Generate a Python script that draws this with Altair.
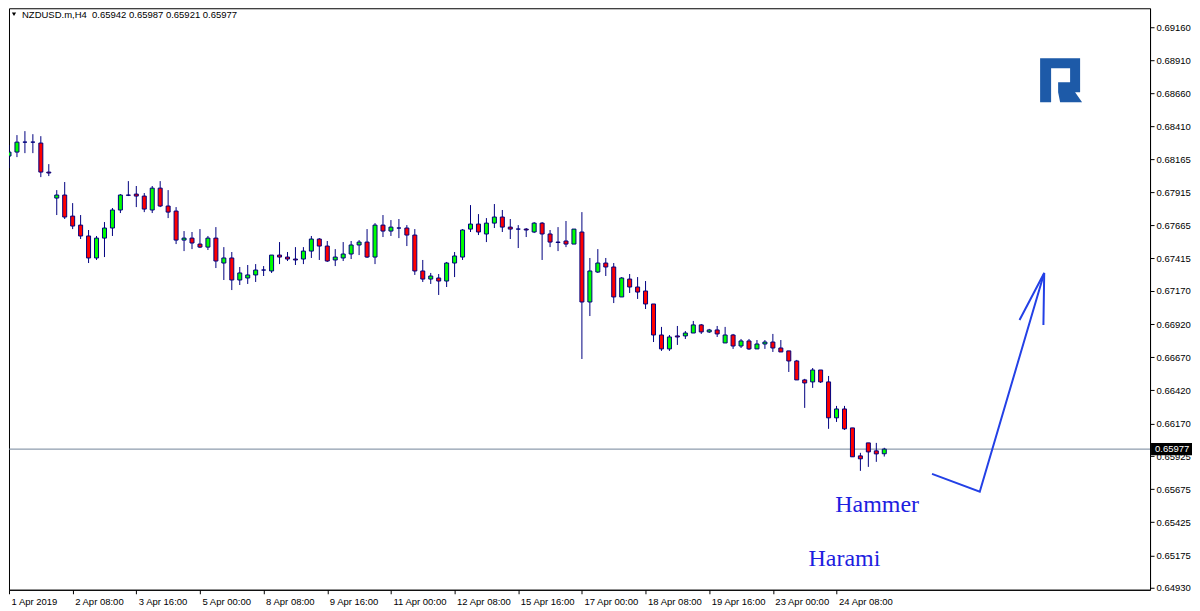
import altair as alt
import pandas as pd

# ---- data (NZDUSD H4, 1-25 Apr 2019) ----
opens = [
    0.68188, 0.68218, 0.68293, 0.68293, 0.68286, 0.68067, 0.67871, 0.67894, 0.67735, 0.67667,
    0.67585, 0.67419, 0.67569, 0.67645, 0.67781, 0.67894, 0.67901, 0.67886, 0.67781, 0.67946,
    0.67811, 0.67773, 0.67554, 0.67569, 0.67524, 0.67501, 0.67569, 0.67381, 0.67419, 0.67253,
    0.67268, 0.67291, 0.67328, 0.67321, 0.67441, 0.67426, 0.67411, 0.67411, 0.67471, 0.67562,
    0.67509, 0.67404, 0.67419, 0.67449, 0.67517, 0.67539, 0.67426, 0.67667, 0.67622, 0.67645,
    0.67645, 0.67592, 0.67321, 0.67260, 0.67268, 0.67245, 0.67381, 0.67426, 0.67637, 0.67675,
    0.67600, 0.67682, 0.67728, 0.67652, 0.67637, 0.67637, 0.67615, 0.67682, 0.67600, 0.67539,
    0.67547, 0.67524, 0.67615, 0.67087, 0.67313, 0.67381, 0.67351, 0.67125, 0.67260, 0.67200,
    0.67170, 0.67072, 0.66838, 0.66733, 0.66831, 0.66831, 0.66853, 0.66914, 0.66861, 0.66876,
    0.66778, 0.66838, 0.66755, 0.66793, 0.66733, 0.66770, 0.66785, 0.66740, 0.66718, 0.66642,
    0.66499, 0.66484, 0.66574, 0.66484, 0.66213, 0.66280, 0.66137, 0.65926, 0.66024, 0.65964,
    0.65942,
]
highs = [
    0.68271, 0.68346, 0.68376, 0.68353, 0.68338, 0.68127, 0.67931, 0.67992, 0.67833, 0.67743,
    0.67630, 0.67585, 0.67690, 0.67796, 0.67901, 0.67999, 0.67962, 0.67909, 0.67962, 0.67999,
    0.67931, 0.67803, 0.67622, 0.67615, 0.67637, 0.67585, 0.67652, 0.67501, 0.67464, 0.67351,
    0.67366, 0.67373, 0.67358, 0.67441, 0.67539, 0.67464, 0.67501, 0.67501, 0.67585, 0.67569,
    0.67547, 0.67486, 0.67539, 0.67547, 0.67554, 0.67637, 0.67682, 0.67743, 0.67705, 0.67713,
    0.67667, 0.67637, 0.67404, 0.67306, 0.67298, 0.67389, 0.67464, 0.67637, 0.67818, 0.67750,
    0.67720, 0.67826, 0.67781, 0.67713, 0.67667, 0.67645, 0.67690, 0.67690, 0.67630, 0.67652,
    0.67698, 0.67637, 0.67765, 0.67419, 0.67486, 0.67419, 0.67381, 0.67275, 0.67298, 0.67275,
    0.67245, 0.67072, 0.66899, 0.66838, 0.66906, 0.66868, 0.66944, 0.66921, 0.66884, 0.66906,
    0.66899, 0.66846, 0.66808, 0.66808, 0.66800, 0.66800, 0.66846, 0.66800, 0.66718, 0.66650,
    0.66507, 0.66589, 0.66574, 0.66529, 0.66303, 0.66303, 0.66137, 0.65949, 0.66024, 0.66024,
    0.65987,
]
lows = [
    0.68097, 0.68180, 0.68210, 0.68210, 0.68029, 0.68037, 0.67743, 0.67713, 0.67637, 0.67562,
    0.67381, 0.67404, 0.67426, 0.67585, 0.67758, 0.67886, 0.67803, 0.67765, 0.67758, 0.67803,
    0.67720, 0.67524, 0.67471, 0.67486, 0.67494, 0.67479, 0.67343, 0.67253, 0.67177, 0.67215,
    0.67223, 0.67238, 0.67283, 0.67306, 0.67373, 0.67396, 0.67366, 0.67373, 0.67419, 0.67404,
    0.67389, 0.67358, 0.67396, 0.67411, 0.67441, 0.67419, 0.67373, 0.67577, 0.67585, 0.67569,
    0.67509, 0.67291, 0.67238, 0.67223, 0.67140, 0.67200, 0.67275, 0.67404, 0.67615, 0.67592,
    0.67539, 0.67645, 0.67615, 0.67562, 0.67494, 0.67577, 0.67607, 0.67404, 0.67501, 0.67471,
    0.67501, 0.67524, 0.66657, 0.66981, 0.67306, 0.67283, 0.67079, 0.67125, 0.67155, 0.67110,
    0.67034, 0.66785, 0.66718, 0.66718, 0.66763, 0.66808, 0.66853, 0.66846, 0.66853, 0.66823,
    0.66778, 0.66733, 0.66740, 0.66725, 0.66733, 0.66733, 0.66710, 0.66710, 0.66559, 0.66499,
    0.66288, 0.66439, 0.66476, 0.66130, 0.66182, 0.66122, 0.65919, 0.65813, 0.65843, 0.65881,
    0.65921,
]
closes = [
    0.68218, 0.68293, 0.68293, 0.68293, 0.68067, 0.68060, 0.67894, 0.67728, 0.67660, 0.67585,
    0.67419, 0.67569, 0.67645, 0.67781, 0.67894, 0.67892, 0.67886, 0.67788, 0.67946, 0.67811,
    0.67765, 0.67554, 0.67569, 0.67532, 0.67501, 0.67569, 0.67396, 0.67419, 0.67253, 0.67306,
    0.67291, 0.67328, 0.67328, 0.67441, 0.67426, 0.67411, 0.67404, 0.67471, 0.67562, 0.67509,
    0.67396, 0.67426, 0.67449, 0.67517, 0.67539, 0.67426, 0.67667, 0.67622, 0.67652, 0.67645,
    0.67592, 0.67321, 0.67260, 0.67283, 0.67245, 0.67381, 0.67434, 0.67630, 0.67675, 0.67615,
    0.67682, 0.67728, 0.67652, 0.67637, 0.67637, 0.67630, 0.67682, 0.67600, 0.67539, 0.67536,
    0.67524, 0.67637, 0.67087, 0.67321, 0.67381, 0.67351, 0.67125, 0.67268, 0.67200, 0.67162,
    0.67072, 0.66838, 0.66733, 0.66823, 0.66823, 0.66853, 0.66914, 0.66861, 0.66876, 0.66846,
    0.66838, 0.66755, 0.66793, 0.66733, 0.66770, 0.66785, 0.66740, 0.66710, 0.66642, 0.66499,
    0.66476, 0.66574, 0.66484, 0.66213, 0.66280, 0.66130, 0.65919, 0.65904, 0.65956, 0.65941,
    0.65977,
]

time_labels = ["1 Apr 2019", "2 Apr 08:00", "3 Apr 16:00", "5 Apr 00:00", "8 Apr 08:00",
               "9 Apr 16:00", "11 Apr 00:00", "12 Apr 08:00", "15 Apr 16:00", "17 Apr 00:00",
               "18 Apr 08:00", "19 Apr 16:00", "23 Apr 00:00", "24 Apr 08:00"]
bars_per_label = 8
price_ticks = [0.69160, 0.68910, 0.68660, 0.68410, 0.68165, 0.67915, 0.67665, 0.67415, 0.67170,
               0.66920, 0.66670, 0.66420, 0.66170, 0.65925, 0.65675, 0.65425, 0.65175, 0.64930]
last_price = 0.65977
header = "NZDUSD.m,H4\u00a0\u00a00.65942 0.65987 0.65921 0.65977"

arrow_seg = [0, 0, 0, 1, 1, 1]
arrow_bar = [116.0, 122.0, 130.1, 127.0, 130.1, 130.0]
arrow_price = [0.65790, 0.65655, 0.67306, 0.66951, 0.67306, 0.66914]

notes = ["Hammer", "Harami"]
note_bar = [109.1, 105.0]
note_price = [0.65557, 0.65150]

# ---- styling ----
FONT = "Liberation Sans"
FS = 9.5
W, H = 1142, 582
XDOM = [0.0, 143.4]
YDOM = [0.64916, 0.69303]
NAVY = "#000080"
BLUE_TXT = "#1e1ee0"
BLUE_ARROW = "#2340e6"

candles = pd.DataFrame({
    "i": list(range(len(opens))),
    "open": opens, "high": highs, "low": lows, "close": closes,
})

xscale = alt.Scale(domain=XDOM, nice=False, zero=False, padding=0)
yscale = alt.Scale(domain=YDOM, nice=False, zero=False, padding=0)

label_arr = "[" + ",".join("'" + s + "'" for s in time_labels) + "]"
xaxis = alt.Axis(
    values=[k * bars_per_label for k in range(len(time_labels))],
    labelExpr=label_arr + "[round(datum.value / %d)]" % bars_per_label,
    title=None, grid=False, tickSize=4, tickColor="black", domainColor="black",
    labelAlign="left", labelOffset=2, labelPadding=3, labelFlush=False,
    labelOverlap=False, labelFont=FONT, labelFontSize=FS, labelColor="black",
    labelBaseline="top",
)
yaxis = alt.Axis(
    orient="right", values=price_ticks, format=".5f", title=None, grid=False,
    tickSize=4, tickColor="black", domainColor="black", labelAlign="left",
    labelPadding=2, labelFlush=False, labelOverlap=False, labelFont=FONT,
    labelFontSize=FS, labelColor="black", labelBaseline="middle",
)


def X(f):
    return alt.X(f, type="quantitative", scale=xscale, axis=xaxis)


def Y(f):
    return alt.Y(f, type="quantitative", scale=yscale, axis=yaxis)


wicks = alt.Chart(candles).mark_rule(color=NAVY, strokeWidth=1, clip=True).encode(
    x=X("i"), y=Y("low"), y2="high"
)
bodies = alt.Chart(candles).mark_bar(size=4, stroke=NAVY, strokeWidth=1, clip=True).encode(
    x=X("i"), y=Y("open"), y2="close",
    color=alt.condition("datum.close >= datum.open", alt.value("#00ff00"), alt.value("#ff0000")),
)

price_df = pd.DataFrame({"p": [last_price], "t": ["%.5f" % last_price]})
price_line = alt.Chart(price_df).mark_rule(color="#71849a", strokeWidth=1).encode(y=Y("p"))
price_box = alt.Chart(price_df).mark_rect(color="black").encode(
    x=alt.value(W + 1), x2=alt.value(W + 42), y=alt.value(435.2), y2=alt.value(447.4)
)
price_text = alt.Chart(price_df).mark_text(
    align="left", baseline="middle", font=FONT, fontSize=FS, color="white"
).encode(x=alt.value(W + 5), y=Y("p"), text="t:N")

arrow_df = pd.DataFrame({"seg": arrow_seg, "i": arrow_bar, "p": arrow_price,
                         "ord": list(range(len(arrow_seg)))})
arrow = alt.Chart(arrow_df).mark_line(color=BLUE_ARROW, strokeWidth=2).encode(
    x=X("i"), y=Y("p"), detail="seg:N", order="ord:Q"
)

notes_df = pd.DataFrame({"t": notes, "i": note_bar, "p": note_price})
note_text = alt.Chart(notes_df).mark_text(
    align="center", baseline="middle", font="Liberation Serif", fontSize=24, color=BLUE_TXT
).encode(x=X("i"), y=Y("p"), text="t:N")

head_df = pd.DataFrame({"t": [header]})
head_tri = alt.Chart(head_df).mark_point(
    shape="triangle-down", filled=True, size=18, color="black", opacity=1
).encode(x=alt.value(5), y=alt.value(6))
head_text = alt.Chart(head_df).mark_text(
    align="left", baseline="middle", font=FONT, fontSize=FS, color="black"
).encode(x=alt.value(13), y=alt.value(6.5), text="t:N")

logo_path = ("M-0.955,-1 L0.864,-1 L0.864,0.545 L0.636,0.545 L0.955,1 L-0.045,1 "
             "L-0.136,0.545 L-0.136,0.091 L0.409,0.091 L0.409,-0.545 L-0.455,-0.545 "
             "L-0.455,1 L-0.955,1 Z")
logo = alt.Chart(head_df).mark_point(
    shape=logo_path, filled=True, size=1936, color="#1d5aa8", opacity=1, strokeWidth=0
).encode(x=alt.value(1053), y=alt.value(72))

chart = alt.layer(
    price_line, wicks, bodies, arrow, note_text, head_tri, head_text, logo,
    price_box, price_text,
).properties(
    width=W, height=H, padding=0, background="white"
).configure_view(stroke="black", strokeWidth=1)

chart.save("out.html", embed_options={"renderer": "svg", "actions": False})
